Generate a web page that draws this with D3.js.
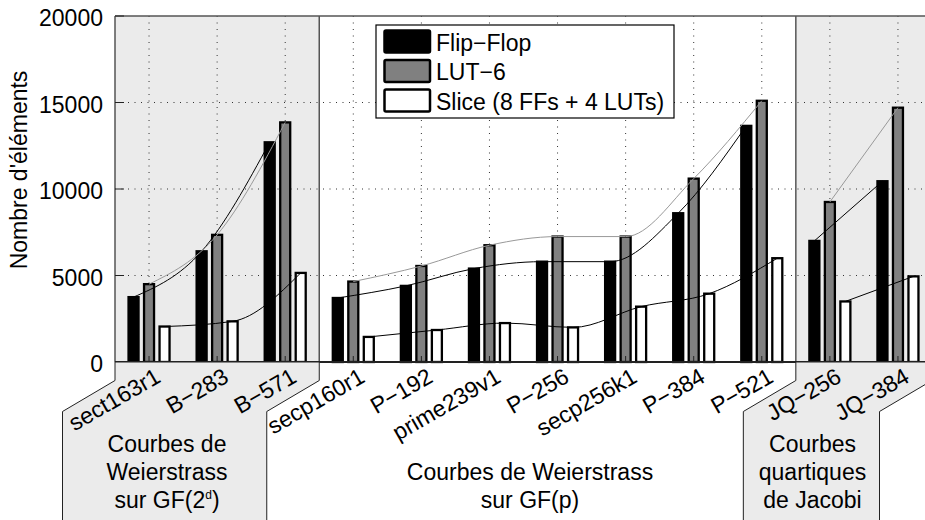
<!DOCTYPE html>
<html>
<head>
<meta charset="UTF-8">
<title>Nombre d'éléments</title>
<script src="https://d3js.org/d3.v7.min.js"></script>
<style>
  body { margin: 0; background: #fff; font-family: "Liberation Sans", Arial, Helvetica, sans-serif; }
  text { fill: #000; font-size: 23px; }
  .grid line { stroke: #333; stroke-width: 1; stroke-dasharray: 1,5.5; }
  .frame { stroke: #555; stroke-width: 1.5; fill: none; }
  .region { fill: #ebebeb; stroke: #222; stroke-width: 1; }
</style>
</head>
<body>
<svg id="chart" width="925" height="520"></svg>
<script>
const categories = ["sect163r1", "B\u2212283", "B\u2212571", "secp160r1", "P\u2212192", "prime239v1",
  "P\u2212256", "secp256k1", "P\u2212384", "P\u2212521", "JQ\u2212256", "JQ\u2212384"];
const flipFlop = [3750, 6400, 12700, 3700, 4400, 5400, 5800, 5800, 8600, 13650, 7000, 10450];
const lut6     = [4500, 7350, 13850, 4650, 5550, 6750, 7250, 7250, 10600, 15100, 9250, 14700];
const slice    = [2050, 2350, 5150, 1450, 1850, 2250, 2000, 3200, 3950, 6000, 3500, 4950];
const seriesNames = ["Flip\u2212Flop", "LUT\u22126", "Slice (8 FFs + 4 LUTs)"];
const yTicks = [0, 5000, 10000, 15000, 20000];

// groups of curves (first index, end index), shaded or not, and their captions
const sectionStarts = [0, 3, 10];
const sectionEnds = [3, 10, 12];
const sectionShaded = [true, false, true];
const sectionLabels = [
  ["Courbes de", "Weierstrass", "sur GF(2^d)"],
  ["Courbes de Weierstrass", "sur GF(p)"],
  ["Courbes", "quartiques", "de Jacobi"]
];

const series = [
  { name: seriesNames[0], values: flipFlop, fill: "#000", line: "#000" },
  { name: seriesNames[1], values: lut6, fill: "#808080", line: "#999" },
  { name: seriesNames[2], values: slice, fill: "#fff", line: "#000" }
];

const plotLeft = 115, plotRight = 932, plotTop = 16, plotBottom = 362;

const svg = d3.select("#chart");

const x = d3.scaleBand().domain(categories).range([plotLeft, plotRight]).padding(0);
const bw = x.bandwidth();
const cx = c => x(c) + bw / 2;
const xSub = d3.scaleBand().domain(seriesNames).range([-23.25, 23.25]);
const subCenter = n => xSub(n) + xSub.bandwidth() / 2;
const y = d3.scaleLinear().domain([0, 20000]).range([plotBottom, plotTop]);

const sectionX0 = k => x(categories[sectionStarts[k]]);
const sectionX1 = k => sectionEnds[k] < categories.length ? x(categories[sectionEnds[k]]) : plotRight;

// shaded backgrounds inside plot
sectionStarts.forEach((s, k) => {
  if (!sectionShaded[k]) return;
  svg.append("rect")
    .attr("x", sectionX0(k)).attr("y", plotTop)
    .attr("width", sectionX1(k) - sectionX0(k)).attr("height", plotBottom - plotTop)
    .attr("fill", "#ebebeb");
});

// grid
const grid = svg.append("g").attr("class", "grid");
grid.selectAll(".vg").data(categories).enter().append("line")
  .attr("x1", d => cx(d)).attr("x2", d => cx(d))
  .attr("y1", plotTop).attr("y2", plotBottom);
grid.selectAll(".hg").data(yTicks.slice(1, -1)).enter().append("line")
  .attr("x1", plotLeft).attr("x2", plotRight)
  .attr("y1", d => y(d)).attr("y2", d => y(d));

// bars
series.forEach(s => {
  svg.append("g").selectAll("rect")
    .data(categories).enter().append("rect")
    .attr("x", d => cx(d) + subCenter(s.name) - 5)
    .attr("width", 10)
    .attr("y", (d, i) => y(s.values[i]))
    .attr("height", (d, i) => y(0) - y(s.values[i]))
    .attr("fill", s.fill)
    .attr("stroke", "#000")
    .attr("stroke-width", 2.3);
});

// trend curves per section
const curve = d3.line().x(d => d.x).y(d => d.y).curve(d3.curveMonotoneX);
series.forEach(s => {
  sectionStarts.forEach((st, k) => {
    const pts = d3.range(st, sectionEnds[k]).map(i => ({
      x: cx(categories[i]) + subCenter(s.name),
      y: y(s.values[i])
    }));
    svg.append("path")
      .attr("d", curve(pts))
      .attr("fill", "none")
      .attr("stroke", s.line)
      .attr("stroke-width", 1);
  });
});

// separators between sections
sectionStarts.slice(1).forEach(s => {
  svg.append("line").attr("class", "frame")
    .attr("x1", x(categories[s])).attr("x2", x(categories[s]))
    .attr("y1", plotTop).attr("y2", plotBottom);
});

// axes frame
svg.append("line").attr("class", "frame")
  .attr("x1", plotLeft).attr("x2", 925).attr("y1", plotTop).attr("y2", plotTop);
svg.append("line").attr("class", "frame")
  .attr("x1", plotLeft).attr("x2", plotLeft).attr("y1", plotTop).attr("y2", plotBottom);
svg.append("line")
  .attr("x1", plotLeft).attr("x2", 925).attr("y1", plotBottom).attr("y2", plotBottom)
  .attr("stroke", "#222").attr("stroke-width", 2);

// y ticks and labels
svg.selectAll(".ytick").data(yTicks).enter().append("line")
  .attr("x1", plotLeft).attr("x2", plotLeft + 9)
  .attr("y1", d => y(d)).attr("y2", d => y(d))
  .attr("stroke", "#222").attr("stroke-width", 1);
svg.selectAll(".ylab").data(yTicks).enter().append("text")
  .attr("x", 103).attr("y", d => y(d) + 10)
  .attr("text-anchor", "end")
  .text(d => d);

svg.append("text")
  .attr("transform", "translate(27,170) rotate(-90)")
  .attr("text-anchor", "middle")
  .text("Nombre d'éléments");

// x tick marks
svg.selectAll(".xtick").data(categories).enter().append("line")
  .attr("x1", d => cx(d)).attr("x2", d => cx(d))
  .attr("y1", plotBottom).attr("y2", plotBottom - 6)
  .attr("stroke", "#222");

// caption regions below the axis
const dx = -52.5, yA = 380.5, yB = 411.5;
sectionStarts.forEach((s, k) => {
  if (!sectionShaded[k]) return;
  const x0 = sectionX0(k), x1 = sectionX1(k);
  const pts = [[x0, plotBottom], [x1, plotBottom], [x1, yA], [x1 + dx, yB], [x1 + dx, 530],
    [x0 + dx, 530], [x0 + dx, yB], [x0, yA]];
  svg.append("polygon").attr("class", "region")
    .attr("points", pts.map(p => p.join(",")).join(" "));
});

// rotated category labels
svg.selectAll(".xlab").data(categories).enter().append("text")
  .attr("text-anchor", "end")
  .attr("transform", d => `translate(${cx(d) + 13},381) rotate(-30)`)
  .text(d => d);

// section captions
const captionX = [167, 530, 812.5];
const captionY = [451.5, 480, 451.5];
sectionLabels.forEach((lines, k) => {
  lines.forEach((ln, j) => {
    const t = svg.append("text")
      .attr("x", captionX[k]).attr("y", captionY[k] + j * 28.3)
      .attr("text-anchor", "middle");
    if (ln.includes("^")) {
      const [a, rest] = ln.split("^");
      t.append("tspan").text(a);
      t.append("tspan").attr("dy", -9).style("font-size", "12px").text(rest.slice(0, 1));
      t.append("tspan").attr("dy", 9).text(rest.slice(1));
    } else {
      t.text(ln);
    }
  });
});

// legend
const legend = svg.append("g");
legend.append("rect")
  .attr("x", 376).attr("y", 25).attr("width", 298).attr("height", 93)
  .attr("fill", "#fff").attr("stroke", "#000").attr("stroke-width", 1.2);
series.forEach((s, i) => {
  legend.append("rect")
    .attr("x", 384.5).attr("y", 30.5 + i * 29.5)
    .attr("width", 45.5).attr("height", 22)
    .attr("rx", 1.5)
    .attr("fill", s.fill).attr("stroke", "#000").attr("stroke-width", 2.5);
  legend.append("text")
    .attr("x", 436).attr("y", 50.5 + i * 29.5)
    .text(s.name);
});
</script>
</body>
</html>
